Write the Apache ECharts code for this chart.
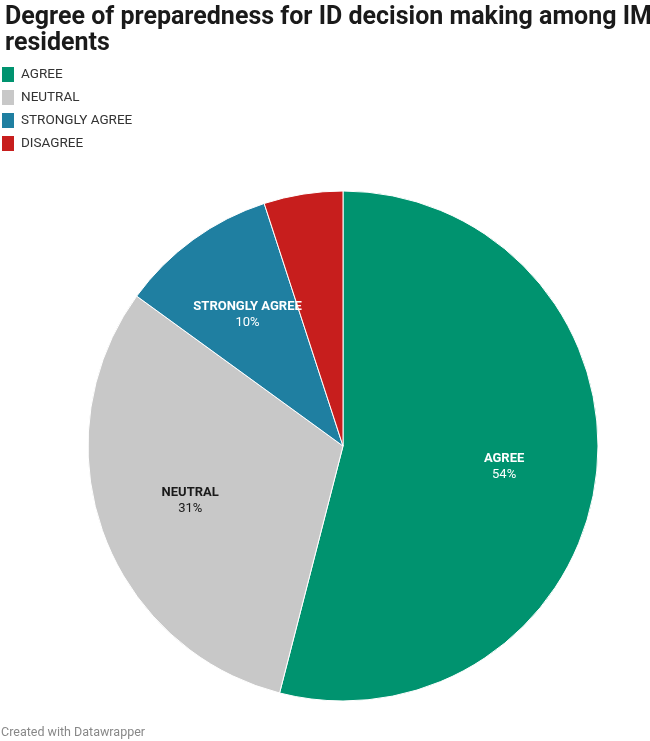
<!DOCTYPE html>
<html>
<head>
<meta charset="utf-8">
<style>
  html, body { margin: 0; padding: 0; background: #fff; }
  #chart { width: 650px; height: 741px; }
</style>
<script src="https://cdn.jsdelivr.net/npm/echarts@6/dist/echarts.min.js"></script>
</head>
<body>
<div id="chart"></div>
<script>
// 数据
const categories = ['AGREE', 'NEUTRAL', 'STRONGLY AGREE', 'DISAGREE']
const values = [54, 31, 10, 5]
const colors = ['#00936f', '#c8c8c8', '#1f7fa1', '#c71e1d']
const labelColors = ['#fff', '#1a1a1a', '#fff', '#fff']
const showLabel = [true, true, true, false]

const chart = echarts.init(document.getElementById('chart'))

const pieData = categories.map((name, i) => ({
  name,
  value: values[i],
  itemStyle: { color: colors[i] },
}))

// 标签层：透明圆环，让标签落在约 0.63 半径处
const labelData = categories.map((name, i) => ({
  name,
  value: values[i],
  itemStyle: { color: 'transparent', borderWidth: 0 },
  label: {
    show: showLabel[i],
    color: labelColors[i],
  },
}))

const R = 255

const option = {
  animation: false,
  textStyle: { fontFamily: 'Roboto, sans-serif' },
  title: {
    text: 'Degree of preparedness for ID decision making among IM\nresidents',
    left: 0,
    top: 0,
    textStyle: {
      fontSize: 25,
      fontWeight: 'bold',
      color: '#1a1a1a',
      lineHeight: 26,
      fontFamily: 'Roboto, sans-serif',
    },
  },
  legend: {
    orient: 'vertical',
    left: 2,
    top: 67,
    padding: 0,
    icon: 'rect',
    itemWidth: 12,
    itemHeight: 15,
    itemGap: 8,
    selectedMode: false,
    data: categories,
    itemStyle: { borderWidth: 0 },
    textStyle: { fontSize: 13.5, color: '#333', padding: [0, 0, 0, 2] },
  },
  graphic: [
    {
      type: 'text',
      left: 1,
      top: 726,
      style: {
        text: 'Created with Datawrapper',
        fill: '#888',
        fontSize: 12.5,
        fontFamily: 'Roboto, sans-serif',
      },
    },
  ],
  series: [
    {
      type: 'pie',
      center: [343, 446],
      radius: [0, R],
      startAngle: 90,
      clockwise: true,
      silent: true,
      label: { show: false },
      labelLine: { show: false },
      itemStyle: { borderColor: '#fff', borderWidth: 1 },
      data: pieData,
    },
    {
      type: 'pie',
      center: [343, 446],
      radius: [R * 0.25, R],
      startAngle: 90,
      clockwise: true,
      silent: true,
      legendHoverLink: false,
      labelLine: { show: false },
      label: {
        position: 'inside',
        formatter: (p) => `{b|${p.name}}\n{v|${p.value}%}`,
        rich: {
          b: { fontSize: 13, fontWeight: 'bold', lineHeight: 16, align: 'center' },
          v: { fontSize: 13, lineHeight: 16, align: 'center' },
        },
      },
      data: labelData,
    },
  ],
}

chart.setOption(option)
</script>
</body>
</html>
